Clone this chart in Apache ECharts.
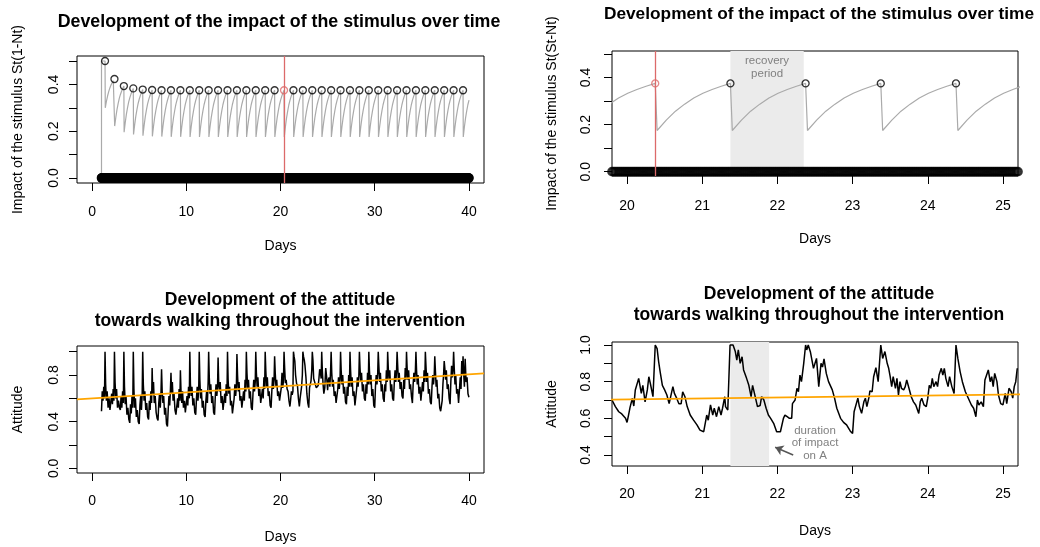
<!DOCTYPE html>
<html>
<head>
<meta charset="utf-8">
<script src="https://cdn.jsdelivr.net/npm/echarts@6/dist/echarts.min.js"></script>
<style>
html, body { margin: 0; padding: 0; background: #fff; }
#chart { width: 1040px; height: 547px; }
</style>
</head>
<body>
<div id="chart"></div>
<script>
// ---- stimulus (top panels) ----
var onsetDay = 1.0;
var lastDay = 40.0;
var samplesPerDay = 40;
var highlightDay = 20.375;
var eventDays = [1.375, 2.375, 3.375, 4.375, 5.375, 6.375, 7.375, 8.375, 9.375, 10.375,
    11.375, 12.375, 13.375, 14.375, 15.375, 16.375, 17.375, 18.375, 19.375, 20.375,
    21.375, 22.375, 23.375, 24.375, 25.375, 26.375, 27.375, 28.375, 29.375, 30.375,
    31.375, 32.375, 33.375, 34.375, 35.375, 36.375, 37.375, 38.375, 39.375];
var peakValues = [0.500, 0.423, 0.393, 0.383, 0.378, 0.376, 0.375, 0.375, 0.375, 0.375,
    0.375, 0.375, 0.375, 0.375, 0.375, 0.375, 0.375, 0.375, 0.375, 0.375,
    0.375, 0.375, 0.375, 0.375, 0.375, 0.375, 0.375, 0.375, 0.375, 0.375,
    0.375, 0.375, 0.375, 0.375, 0.375, 0.375, 0.375, 0.375, 0.375];
var troughValues = [0.300, 0.222, 0.196, 0.186, 0.181, 0.178, 0.177, 0.176, 0.176, 0.175,
    0.175, 0.175, 0.175, 0.175, 0.175, 0.175, 0.175, 0.175, 0.175, 0.175,
    0.175, 0.175, 0.175, 0.175, 0.175, 0.175, 0.175, 0.175, 0.175, 0.175,
    0.175, 0.175, 0.175, 0.175, 0.175, 0.175, 0.175, 0.175, 0.175];
// share of the way back up
var dropLag = 0.025;
var recoverySteps = [0, 0.125, 0.25, 0.375, 0.5, 0.625, 0.75, 0.875, 1];
var recoveryShape = [0, 0.22, 0.41, 0.56, 0.69, 0.79, 0.87, 0.94, 1.0];

// ---- attitude (bottom panels) ----
var attitudeFirstDay = 1;
var attitudeOffsets = [0.00, 0.08, 0.16, 0.24, 0.32, 0.375, 0.44, 0.52, 0.60, 0.70, 0.80, 0.90];
var attitudeByDay = [
    [0.49, 0.66, 0.58, 0.70, 0.60, 1.00, 0.72, 0.58, 0.66, 0.52, 0.60, 0.50],
    [0.50, 0.64, 0.55, 0.68, 0.58, 1.00, 0.74, 0.60, 0.68, 0.52, 0.58, 0.52],
    [0.50, 0.62, 0.52, 0.66, 0.56, 1.00, 0.70, 0.55, 0.62, 0.46, 0.52, 0.42],
    [0.39, 0.55, 0.47, 0.62, 0.52, 1.00, 0.68, 0.52, 0.60, 0.44, 0.50, 0.40],
    [0.38, 0.54, 0.62, 0.50, 0.64, 1.00, 0.72, 0.58, 0.66, 0.50, 0.56, 0.44],
    [0.42, 0.58, 0.50, 0.66, 0.56, 0.86, 0.64, 0.74, 0.56, 0.62, 0.48, 0.43],
    [0.41, 0.56, 0.64, 0.52, 0.66, 0.85, 0.66, 0.56, 0.62, 0.46, 0.52, 0.38],
    [0.36, 0.50, 0.62, 0.54, 0.68, 0.82, 0.64, 0.74, 0.58, 0.64, 0.50, 0.46],
    [0.45, 0.60, 0.52, 0.68, 0.58, 0.84, 0.66, 0.56, 0.66, 0.52, 0.58, 0.48],
    [0.47, 0.62, 0.54, 0.70, 0.60, 1.00, 0.72, 0.62, 0.70, 0.54, 0.60, 0.48],
    [0.46, 0.60, 0.70, 0.58, 0.68, 1.00, 0.76, 0.60, 0.68, 0.52, 0.58, 0.46],
    [0.44, 0.58, 0.66, 0.56, 0.74, 1.00, 0.78, 0.64, 0.72, 0.56, 0.62, 0.48],
    [0.46, 0.62, 0.72, 0.62, 0.70, 0.95, 0.74, 0.66, 0.74, 0.56, 0.62, 0.50],
    [0.50, 0.64, 0.56, 0.72, 0.62, 1.00, 0.76, 0.64, 0.70, 0.54, 0.58, 0.47],
    [0.46, 0.60, 0.72, 0.62, 0.70, 0.98, 0.80, 0.66, 0.74, 0.58, 0.62, 0.52],
    [0.52, 0.66, 0.58, 0.76, 0.66, 1.00, 0.82, 0.68, 0.76, 0.60, 0.66, 0.52],
    [0.50, 0.64, 0.76, 0.66, 0.74, 1.00, 0.82, 0.70, 0.78, 0.62, 0.68, 0.56],
    [0.55, 0.68, 0.60, 0.78, 0.68, 1.00, 0.84, 0.70, 0.78, 0.62, 0.66, 0.54],
    [0.52, 0.66, 0.78, 0.68, 0.76, 0.96, 0.82, 0.70, 0.76, 0.62, 0.66, 0.58],
    [0.58, 0.69, 0.82, 0.69, 0.76, 1.00, 0.86, 0.73, 0.76, 0.68, 0.66, 0.58],
    [0.53, 0.59, 0.66, 0.63, 0.66, 1.00, 0.96, 0.92, 0.80, 0.73, 0.71, 0.60],
    [0.53, 0.60, 0.60, 0.70, 0.80, 1.00, 0.96, 0.93, 0.88, 0.78, 0.64, 0.56],
    [0.52, 0.69, 0.70, 0.75, 0.84, 1.00, 0.93, 0.77, 0.77, 0.77, 0.69, 0.69],
    [0.71, 0.77, 0.85, 0.82, 0.77, 1.00, 0.84, 0.72, 0.64, 0.69, 0.86, 0.78],
    [0.67, 0.76, 0.78, 0.70, 0.84, 1.00, 0.82, 0.70, 0.76, 0.62, 0.66, 0.56],
    [0.55, 0.68, 0.78, 0.68, 0.76, 1.00, 0.84, 0.72, 0.80, 0.64, 0.70, 0.57],
    [0.55, 0.70, 0.62, 0.80, 0.70, 1.00, 0.84, 0.70, 0.78, 0.62, 0.66, 0.54],
    [0.53, 0.68, 0.78, 0.70, 0.80, 1.00, 0.86, 0.74, 0.82, 0.66, 0.72, 0.60],
    [0.58, 0.72, 0.64, 0.82, 0.72, 1.00, 0.84, 0.72, 0.80, 0.62, 0.68, 0.54],
    [0.52, 0.70, 0.80, 0.72, 0.82, 1.00, 0.88, 0.74, 0.82, 0.66, 0.72, 0.60],
    [0.57, 0.72, 0.66, 0.84, 0.74, 1.00, 0.86, 0.76, 0.84, 0.66, 0.72, 0.60],
    [0.58, 0.74, 0.84, 0.74, 0.84, 1.00, 0.88, 0.74, 0.82, 0.68, 0.74, 0.62],
    [0.60, 0.76, 0.68, 0.86, 0.76, 1.00, 0.86, 0.76, 0.84, 0.68, 0.72, 0.62],
    [0.56, 0.72, 0.82, 0.74, 0.84, 1.00, 0.84, 0.72, 0.80, 0.64, 0.70, 0.58],
    [0.58, 0.74, 0.66, 0.84, 0.74, 1.00, 0.88, 0.74, 0.82, 0.64, 0.68, 0.57],
    [0.55, 0.70, 0.80, 0.72, 0.80, 0.96, 0.84, 0.70, 0.76, 0.60, 0.64, 0.52],
    [0.49, 0.50, 0.58, 0.72, 0.82, 0.92, 0.86, 0.76, 0.84, 0.68, 0.72, 0.60],
    [0.55, 0.74, 0.88, 0.78, 0.86, 1.00, 0.86, 0.72, 0.80, 0.64, 0.68, 0.56],
    [0.57, 0.78, 0.68, 0.92, 0.80, 0.96, 0.82, 0.70, 0.94, 0.74, 0.78, 0.64]
];
var attitudeEnd = 0.61;

// close-up of days 20-25
var detailDays = [19.80, 19.845, 19.89, 19.93, 19.98, 20.00, 20.02, 20.04, 20.07, 20.09,
    20.11, 20.13, 20.155, 20.19, 20.21, 20.24, 20.27, 20.29, 20.31, 20.345,
    20.375, 20.40, 20.42, 20.44, 20.47, 20.50, 20.53, 20.56, 20.59, 20.61,
    20.63, 20.66, 20.69, 20.72, 20.74, 20.77, 20.80, 20.84, 20.885, 20.93,
    20.97, 21.02, 21.06, 21.08, 21.11, 21.14, 21.16, 21.19, 21.22, 21.25,
    21.27, 21.30, 21.31, 21.34, 21.37, 21.41, 21.44, 21.46, 21.48, 21.505,
    21.53, 21.55, 21.57, 21.59, 21.62, 21.65, 21.67, 21.70, 21.735, 21.77,
    21.79, 21.82, 21.85, 21.88, 21.91, 21.95, 21.99, 22.04, 22.06, 22.08,
    22.10, 22.13, 22.16, 22.19, 22.20, 22.235, 22.26, 22.28, 22.30, 22.32,
    22.35, 22.375, 22.39, 22.41, 22.44, 22.46, 22.48, 22.52, 22.55, 22.58,
    22.60, 22.62, 22.65, 22.68, 22.73, 22.76, 22.79, 22.84, 22.88, 22.92,
    22.97, 23.00, 23.02, 23.04, 23.07, 23.09, 23.12, 23.15, 23.17, 23.19,
    23.22, 23.23, 23.26, 23.28, 23.31, 23.34, 23.35, 23.375, 23.40, 23.43,
    23.46, 23.48, 23.50, 23.52, 23.54, 23.57, 23.59, 23.61, 23.63, 23.65,
    23.68, 23.70, 23.72, 23.75, 23.78, 23.81, 23.84, 23.88, 23.90, 23.92,
    23.95, 23.98, 24.00, 24.02, 24.04, 24.06, 24.08, 24.11, 24.13, 24.15,
    24.18, 24.20, 24.22, 24.24, 24.27, 24.29, 24.32, 24.35, 24.375, 24.40,
    24.43, 24.46, 24.50, 24.53, 24.55, 24.58, 24.61, 24.64, 24.66, 24.68,
    24.71, 24.74, 24.76, 24.78, 24.805, 24.83, 24.85, 24.87, 24.89, 24.92,
    24.94, 24.97, 25.00, 25.03, 25.05, 25.08, 25.11, 25.13, 25.15, 25.17,
    25.19];
var detailValues = [0.700, 0.664, 0.636, 0.624, 0.600, 0.578, 0.618, 0.660, 0.709, 0.667,
    0.755, 0.745, 0.818, 0.736, 0.780, 0.690, 0.755, 0.827, 0.790, 0.718,
    1.000, 0.980, 0.910, 0.855, 0.780, 0.755, 0.727, 0.680, 0.736, 0.773,
    0.736, 0.710, 0.680, 0.680, 0.745, 0.718, 0.664, 0.618, 0.590, 0.564,
    0.536, 0.527, 0.618, 0.590, 0.673, 0.618, 0.655, 0.609, 0.664, 0.618,
    0.655, 0.718, 0.664, 0.645, 1.000, 1.000, 0.964, 0.918, 0.973, 0.900,
    0.936, 0.864, 0.855, 0.818, 0.780, 0.718, 0.780, 0.727, 0.664, 0.670,
    0.718, 0.700, 0.655, 0.618, 0.600, 0.573, 0.527, 0.527, 0.527, 0.600,
    0.618, 0.609, 0.600, 0.600, 0.680, 0.700, 0.764, 0.745, 0.836, 0.800,
    0.900, 1.000, 0.973, 1.000, 0.960, 0.955, 0.873, 0.927, 0.773, 0.900,
    0.880, 0.924, 0.845, 0.800, 0.755, 0.710, 0.655, 0.600, 0.578, 0.564,
    0.530, 0.518, 0.636, 0.636, 0.710, 0.664, 0.627, 0.690, 0.710, 0.664,
    0.718, 0.750, 0.745, 0.827, 0.876, 0.800, 0.855, 1.000, 0.927, 0.964,
    0.900, 0.873, 0.827, 0.773, 0.827, 0.764, 0.818, 0.727, 0.800, 0.764,
    0.755, 0.773, 0.809, 0.764, 0.718, 0.690, 0.673, 0.627, 0.690, 0.710,
    0.673, 0.664, 0.710, 0.780, 0.764, 0.818, 0.773, 0.800, 0.773, 0.836,
    0.873, 0.836, 0.873, 0.818, 0.773, 0.827, 0.773, 0.736, 1.000, 0.927,
    0.855, 0.800, 0.745, 0.718, 0.727, 0.673, 0.655, 0.609, 0.700, 0.673,
    0.690, 0.664, 0.809, 0.800, 0.864, 0.800, 0.827, 0.773, 0.845, 0.800,
    0.727, 0.680, 0.673, 0.736, 0.680, 0.764, 0.745, 0.710, 0.773, 0.800,
    0.873];

// fitted trend (orange), read at both ends of the full plot
var trendDays = [-1.6, 41.6];
var trendValues = [0.592, 0.815];

// ---- build series data ----
var impactLine = [[onsetDay, 0], [onsetDay, peakValues[0]]];
eventDays.forEach(function (t, k) {
    impactLine.push([t, peakValues[k]]);
    var target = k + 1 < peakValues.length ? peakValues[k + 1] : peakValues[k];
    for (var j = 0; j < recoveryShape.length; j++) {
        var x = t + dropLag + recoverySteps[j] * (1 - dropLag);
        if (x > lastDay + 0.02) break;
        impactLine.push([x, troughValues[k] + (target - troughValues[k]) * recoveryShape[j]]);
    }
});

var zeroPoints = [];
for (var d = onsetDay; d <= lastDay + 1e-9; d += 1 / samplesPerDay) {
    zeroPoints.push([d, 0]);
}

var peakPoints = eventDays.map(function (t, k) {
    var p = { value: [t, peakValues[k]] };
    if (t === highlightDay) p.itemStyle = { borderColor: '#dc6a6a' };
    return p;
});

var attitudeLine = [];
attitudeByDay.forEach(function (vals, i) {
    vals.forEach(function (v, j) {
        attitudeLine.push([attitudeFirstDay + i + attitudeOffsets[j], v]);
    });
});
attitudeLine.push([lastDay, attitudeEnd]);

var detailLine = detailDays.map(function (t, i) { return [t, detailValues[i]]; });
var trendLine = trendDays.map(function (t, i) { return [t, trendValues[i]]; });

// ---- styling helpers ----
var FONT = '"Liberation Sans", Arial, Helvetica, sans-serif';

function xAx(gi, min, max, ticks, margin, gap) {
    return {
        type: 'value', gridIndex: gi, min: min, max: max,
        axisLine: { show: false, onZero: false },
        axisTick: { show: true, length: 8, customValues: ticks, lineStyle: { color: '#000', width: 1 } },
        axisLabel: { customValues: ticks, margin: margin, color: '#000', fontSize: 14, fontFamily: FONT },
        splitLine: { show: false },
        name: 'Days', nameLocation: 'middle', nameGap: gap,
        nameTextStyle: { color: '#000', fontSize: 14, fontFamily: FONT }
    };
}

function yAx(gi, min, max, ticks, labels, margin, name, gap) {
    return {
        type: 'value', gridIndex: gi, min: min, max: max,
        axisLine: { show: false, onZero: false },
        axisTick: { show: true, length: 8, customValues: ticks, lineStyle: { color: '#000', width: 1 } },
        axisLabel: {
            customValues: labels, margin: margin, rotate: 90, color: '#000', fontSize: 14, fontFamily: FONT,
            formatter: function (v) { return v.toFixed(1); }
        },
        splitLine: { show: false },
        name: name, nameLocation: 'middle', nameGap: gap, nameRotate: 90,
        nameTextStyle: { color: '#000', fontSize: 14, fontFamily: FONT }
    };
}

function box(left, top, width, height) {
    return {
        left: left, top: top, width: width, height: height,
        show: true, borderColor: '#000', borderWidth: 1, backgroundColor: 'transparent',
        containLabel: false, outerBoundsMode: 'none'
    };
}

function title(text, x, top, size) {
    return {
        text: text, left: x, top: top, textAlign: 'center', padding: 0,
        textStyle: { color: '#000', fontSize: size, fontWeight: 'bold', fontFamily: FONT, lineHeight: 21 }
    };
}

var redLine = {
    silent: true, symbol: 'none', label: { show: false },
    lineStyle: { color: '#dc6a6a', width: 1.3, type: 'solid' },
    data: [{ xAxis: highlightDay }]
};

var zeroStyle = { color: 'rgba(0,0,0,0)', borderColor: '#000', borderWidth: 2.2 };
var peakStyle = { color: 'rgba(0,0,0,0)', borderColor: '#000', borderWidth: 1.3 };

var myChart = echarts.init(document.getElementById('chart'));
var option = {
    animation: false,
    backgroundColor: '#fff',
    title: [
        title('Development of the impact of the stimulus over time', 279, 12, 17.8),
        title('Development of the impact of the stimulus over time', 819, 4, 17.3),
        title('Development of the attitude\ntowards walking throughout the intervention', 280, 290, 17.5),
        title('Development of the attitude\ntowards walking throughout the intervention', 819, 284, 17.5)
    ],
    grid: [
        box(77, 56, 407, 127),
        box(612, 51, 406, 125),
        box(77, 346, 407, 127),
        box(612, 342, 406, 124)
    ],
    xAxis: [
        xAx(0, -1.6, 41.6, [0, 10, 20, 30, 40], 22, 56),
        xAx(1, 19.8, 25.2, [20, 21, 22, 23, 24, 25], 23, 56),
        xAx(2, -1.6, 41.6, [0, 10, 20, 30, 40], 21, 57),
        xAx(3, 19.8, 25.2, [20, 21, 22, 23, 24, 25], 21, 58)
    ],
    yAxis: [
        yAx(0, -0.0214, 0.5214, [0, 0.1, 0.2, 0.3, 0.4, 0.5], [0, 0.2, 0.4], 16, 'Impact of the stimulus St(1-Nt)', 52),
        yAx(1, -0.0183, 0.5127, [0, 0.1, 0.2, 0.3, 0.4, 0.5], [0, 0.2, 0.4], 19, 'Impact of the stimulus St(St-Nt)', 53),
        yAx(2, -0.040, 1.049, [0, 0.2, 0.4, 0.6, 0.8, 1.0], [0, 0.4, 0.8], 16, 'Attitude', 52),
        yAx(3, 0.34, 1.0164, [0.4, 0.5, 0.6, 0.7, 0.8, 0.9, 1.0], [0.4, 0.6, 0.8, 1.0], 19, 'Attitude', 53)
    ],
    series: [
        // panel 1
        {
            type: 'line', xAxisIndex: 0, yAxisIndex: 0, data: impactLine, showSymbol: false,
            lineStyle: { color: '#aaaaaa', width: 1.2 }, markLine: redLine, z: 2
        },
        {
            type: 'scatter', xAxisIndex: 0, yAxisIndex: 0, data: zeroPoints, symbol: 'circle', symbolSize: 7.5,
            itemStyle: zeroStyle, z: 3, silent: true
        },
        {
            type: 'scatter', xAxisIndex: 0, yAxisIndex: 0, data: peakPoints, symbol: 'circle', symbolSize: 7,
            itemStyle: peakStyle, z: 4, silent: true
        },
        // panel 2
        {
            type: 'line', xAxisIndex: 1, yAxisIndex: 1, data: impactLine, showSymbol: false,
            lineStyle: { color: '#aaaaaa', width: 1.2 }, z: 2,
            markLine: redLine,
            markArea: {
                silent: true,
                itemStyle: { color: '#ebebeb' },
                label: {
                    show: true, position: 'insideTop', distance: 4, color: '#808080',
                    fontSize: 11.5, lineHeight: 12.5, fontFamily: FONT
                },
                data: [[{ xAxis: 21.375, name: 'recovery\nperiod' }, { xAxis: 22.35 }]]
            }
        },
        {
            type: 'scatter', xAxisIndex: 1, yAxisIndex: 1, data: zeroPoints, symbol: 'circle', symbolSize: 7.5,
            itemStyle: zeroStyle, z: 3, silent: true
        },
        {
            type: 'scatter', xAxisIndex: 1, yAxisIndex: 1, data: peakPoints, symbol: 'circle', symbolSize: 7,
            itemStyle: peakStyle, z: 4, silent: true
        },
        // panel 3
        {
            type: 'line', xAxisIndex: 2, yAxisIndex: 2, data: attitudeLine, showSymbol: false,
            lineStyle: { color: '#000', width: 1.5 }, z: 2
        },
        {
            type: 'line', xAxisIndex: 2, yAxisIndex: 2, data: trendLine, showSymbol: false,
            lineStyle: { color: '#ffa500', width: 1.8 }, z: 3
        },
        // panel 4
        {
            type: 'line', xAxisIndex: 3, yAxisIndex: 3, data: detailLine, showSymbol: false,
            lineStyle: { color: '#000', width: 1.5 }, z: 2,
            markArea: {
                silent: true,
                itemStyle: { color: '#ebebeb' },
                data: [[{ xAxis: 21.375 }, { xAxis: 21.89 }]]
            },
            markLine: {
                silent: true, symbol: ['none', 'arrow'], symbolSize: 8, label: { show: false },
                lineStyle: { color: '#555', width: 1.5, type: 'solid' },
                data: [[{ coord: [22.21, 0.40] }, { coord: [21.97, 0.442] }]]
            },
            markPoint: {
                silent: true, symbol: 'circle', symbolSize: 1,
                itemStyle: { color: 'rgba(0,0,0,0)' },
                label: {
                    show: true, position: 'inside', color: '#808080',
                    fontSize: 11.5, lineHeight: 12.5, fontFamily: FONT,
                    formatter: 'duration\nof impact\non A'
                },
                data: [{ coord: [22.5, 0.466] }]
            }
        },
        {
            type: 'line', xAxisIndex: 3, yAxisIndex: 3, data: trendLine, showSymbol: false,
            lineStyle: { color: '#ffa500', width: 1.8 }, z: 3
        }
    ]
};
myChart.setOption(option);
</script>
</body>
</html>
